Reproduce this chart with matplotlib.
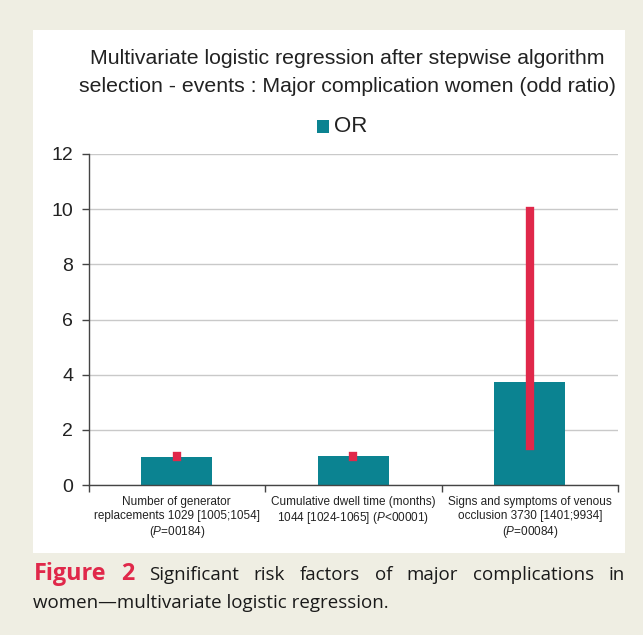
import matplotlib
matplotlib.use("Agg")
import matplotlib.pyplot as plt
from matplotlib.patches import Rectangle
import numpy as np

categories = [
    "Number of generator\nreplacements 1029 [1005;1054]\n($\\it{P}$=00184)",
    "Cumulative dwell time (months)\n1044 [1024-1065] ($\\it{P}$<00001)",
    "Signs and symptoms of venous\nocclusion 3730 [1401;9934]\n($\\it{P}$=00084)",
]
odds_ratio = [1.029, 1.044, 3.730]
ci_low = [1.005, 1.024, 1.401]
ci_high = [1.054, 1.065, 9.934]
y_ticks = [0, 2, 4, 6, 8, 10, 12]
title_lines = ["Multivariate logistic regression after stepwise algorithm",
               "selection - events : Major complication women (odd ratio)"]
caption_line1 = [("Figure", True), ("2", True), ("Significant", False), ("risk", False),
                 ("factors", False), ("of", False), ("major", False),
                 ("complications", False), ("in", False)]
caption_line2 = "women\u2014multivariate logistic regression."

plt.rcParams['font.family'] = ['Liberation Sans', 'DejaVu Sans']
plt.rcParams['mathtext.fontset'] = 'custom'
plt.rcParams['mathtext.rm'] = 'Liberation Sans'
plt.rcParams['mathtext.it'] = 'Liberation Sans:italic'

W, H = 643, 635
fig = plt.figure(figsize=(W / 100, H / 100), dpi=100)
fig.patch.set_facecolor('#efeee3')

# white panel
fig.patches.append(Rectangle((33 / W, 1 - 553 / H), (625 - 33) / W, (553 - 30) / H,
                             transform=fig.transFigure, facecolor='white',
                             edgecolor='none', zorder=-5))

teal = '#0b8391'
red = '#e0284a'

ax = fig.add_axes([88.5 / W, 1 - 485 / H, (618 - 88.5) / W, (485 - 154) / H])
ax.set_zorder(2)
ax.set_facecolor('none')
x = np.arange(len(categories))
ax.bar(x, odds_ratio, width=0.4, color=teal, zorder=2, label='OR')
yerr = [np.array(odds_ratio) - np.array(ci_low), np.array(ci_high) - np.array(odds_ratio)]
eb = ax.errorbar(x, odds_ratio, yerr=yerr, fmt='none', ecolor=red, elinewidth=6,
                 capsize=0, zorder=3)
for lc in eb.lines[2]:
    lc.set_capstyle('projecting')

ax.set_xlim(-0.5, len(categories) - 0.5)
ax.set_ylim(0, 12)
ax.set_yticks(y_ticks)
ax.set_yticklabels([str(v) for v in y_ticks], fontsize=14, color='#222222')
ax.yaxis.grid(True, color='#c9c9c9', linewidth=1, zorder=0)
ax.set_axisbelow(True)
ax.tick_params(axis='y', length=5, width=1, color='#444444', pad=6)

ax.set_xticks(np.arange(-0.5, len(categories), 1.0))
ax.set_xticklabels([])
ax.set_xticks(x, minor=True)
ax.set_xticklabels(categories, minor=True, fontsize=8.5, color='#222222', linespacing=1.2)
ax.tick_params(axis='x', which='major', length=5, width=1, color='#444444')
ax.tick_params(axis='x', which='minor', length=0, pad=8)

for s in ['top', 'right']:
    ax.spines[s].set_visible(False)
for s in ['left', 'bottom']:
    ax.spines[s].set_color('#444444')
    ax.spines[s].set_linewidth(1)

# title
fig.text(347 / W, 1 - 59 / H, title_lines[0], ha='center', va='center', fontsize=15.3, color='#222222')
fig.text(347 / W, 1 - 86 / H, title_lines[1], ha='center', va='center', fontsize=15.3, color='#222222')

# legend
fig.patches.append(Rectangle((317 / W, 1 - 133 / H), 12 / W, 13 / H, transform=fig.transFigure,
                             facecolor=teal, edgecolor='none'))
fig.text(334 / W, 1 - 126 / H, "OR", ha='left', va='center', fontsize=16, color='#222222')

# caption, justified line 1
cap_font = ['Open Sans', 'DejaVu Sans']
cap_size = 13.5
renderer = fig.canvas.get_renderer()
texts = []
for word, bold in caption_line1:
    t = fig.text(0, 1 - 580 / H, word, ha='left', va='baseline',
                 fontsize=16.8 if bold else cap_size,
                 family=cap_font, fontweight='bold' if bold else 'normal',
                 color=red if bold else '#1a1a1a')
    texts.append(t)
widths = [t.get_window_extent(renderer).width for t in texts]
left, right = 34, 625
gap = (right - left - sum(widths)) / (len(texts) - 1)
pos = left
for t, w in zip(texts, widths):
    t.set_x(pos / W)
    pos += w + gap

fig.text(33 / W, 1 - 608 / H, caption_line2, ha='left', va='baseline', fontsize=cap_size,
         family=cap_font, color='#1a1a1a')

fig.savefig('out.png', dpi=100, facecolor=fig.get_facecolor())
